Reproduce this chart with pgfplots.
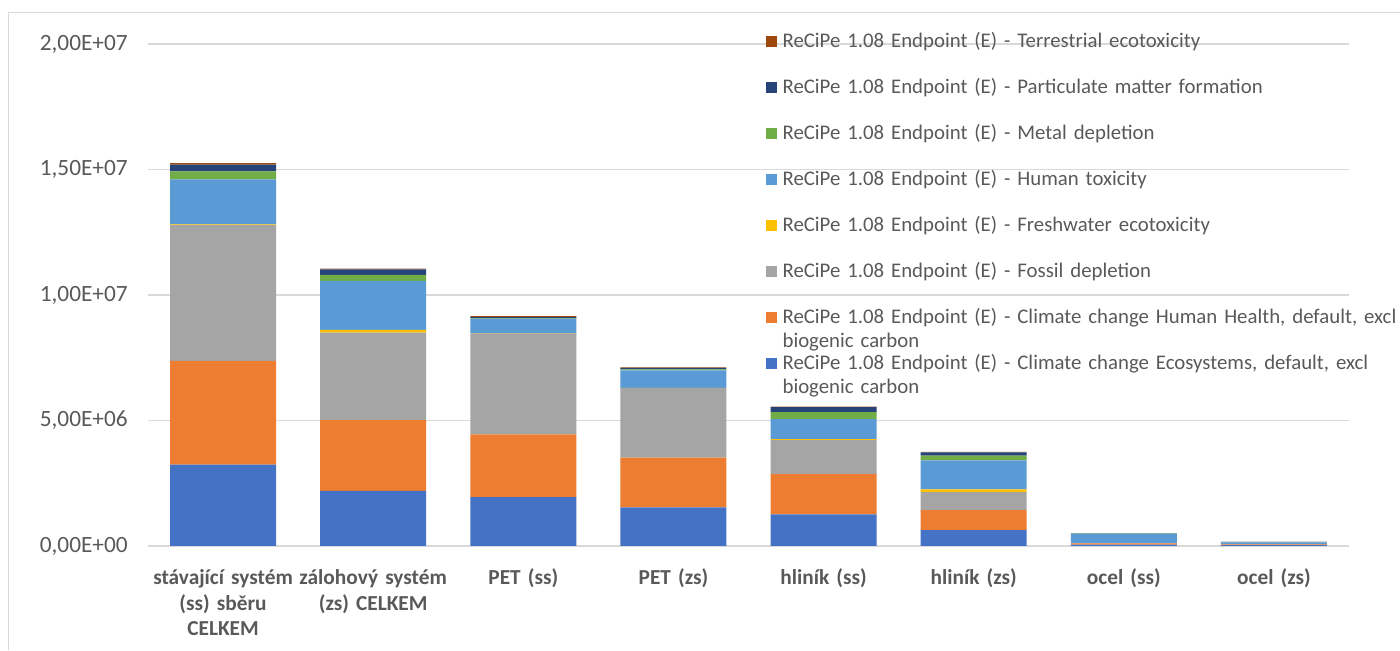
\documentclass[border=0pt]{standalone}
\usepackage{fontspec}
\setmainfont{Carlito}
\usepackage{pgfplots}
\pgfplotsset{compat=1.18}
\usepackage{pgfplotstable}

\definecolor{cEco}{HTML}{4472C4}
\definecolor{cHH}{HTML}{ED7D31}
\definecolor{cFos}{HTML}{A5A5A5}
\definecolor{cFw}{HTML}{FFC000}
\definecolor{cHt}{HTML}{5B9BD5}
\definecolor{cMet}{HTML}{70AD47}
\definecolor{cPm}{HTML}{264478}
\definecolor{cTer}{HTML}{9E480E}
\definecolor{txt}{HTML}{595959}
\definecolor{grd}{HTML}{D9D9D9}

\pgfplotstableread{
x eco hh fos fw ht met pm ter
0 3.24e6 4.14e6 5.40e6 0.03e6 1.80e6 0.32e6 0.26e6 0.06e6
1 2.20e6 2.81e6 3.49e6 0.11e6 1.95e6 0.24e6 0.22e6 0.03e6
2 1.95e6 2.50e6 4.00e6 0.01e6 0.60e6 0.02e6 0.04e6 0.04e6
3 1.54e6 1.98e6 2.77e6 0.01e6 0.70e6 0.04e6 0.06e6 0.02e6
4 1.26e6 1.60e6 1.36e6 0.04e6 0.79e6 0.28e6 0.20e6 0.02e6
5 0.63e6 0.80e6 0.72e6 0.11e6 1.15e6 0.19e6 0.13e6 0.02e6
6 0.05e6 0.05e6 0.01e6 0.00e6 0.38e6 0.02e6 0.005e6 0.002e6
7 0.03e6 0.03e6 0.01e6 0.00e6 0.07e6 0.01e6 0.01e6 0.002e6
}\data

\tikzset{le/.style={anchor=base west, inner sep=0pt, text height=12pt, text depth=0pt, text width=470pt, align=left, text=txt}}

\begin{document}
\begin{tikzpicture}
\useasboundingbox (0,0) rectangle (1050pt,487.5pt);
\draw[grd, line width=0.75pt] (6pt,0pt) -- (6pt,477.75pt) -- (1050pt,477.75pt);
\begin{axis}[
  at={(111pt,78pt)}, anchor=south west,
  scale only axis, width=900.75pt, height=376.5pt,
  xmin=-0.5, xmax=7.5, ymin=0, ymax=2e7,
  enlargelimits=false,
  ybar stacked, bar width=79.5pt,
  axis line style={draw=none},
  major tick length=0pt,
  ymajorgrids, grid style={grd, line width=1.1pt},
  ytick={0,5e6,1e7,1.5e7,2e7},
  yticklabels={{0,00E+00},{5,00E+06},{1,00E+07},{1,50E+07},{2,00E+07}},
  scaled y ticks=false,
  yticklabel style={anchor=east, inner sep=0pt, xshift=-15pt, text=txt, font=\fontsize{17.5}{21}\selectfont},
  xtick={0,...,7},
  xticklabels={{stávající systém\\(ss) sběru\\CELKEM},{zálohový systém\\(zs) CELKEM},{PET (ss)},{PET (zs)},{hliník (ss)},{hliník (zs)},{ocel (ss)},{ocel (zs)}},
  xticklabel style={anchor=base, inner sep=0pt, text width=140pt, align=center, yshift=-28.5pt, text=txt, font=\fontsize{16}{19.5}\selectfont\bfseries},
  reverse legend,
  legend style={at={(0.514,1.026)}, anchor=north west, draw=none, fill=none, inner sep=0pt, row sep=22.5pt, column sep=4.5pt, font=\fontsize{15.6}{18}\selectfont},
  legend image code/.code={\fill[#1,draw=none] (0pt,0pt) rectangle (8.25pt,8.25pt);},
  every axis plot/.append style={draw=none},
]
\addplot[fill=cEco] table[x=x,y=eco]{\data};
\addlegendentry[le]{ReCiPe 1.08 Endpoint (E) - Climate change Ecosystems, default, excl\\biogenic carbon}
\addplot[fill=cHH] table[x=x,y=hh]{\data};
\addlegendentry[le]{ReCiPe 1.08 Endpoint (E) - Climate change Human Health, default, excl\\biogenic carbon}
\addplot[fill=cFos] table[x=x,y=fos]{\data};
\addlegendentry[le]{ReCiPe 1.08 Endpoint (E) - Fossil depletion}
\addplot[fill=cFw] table[x=x,y=fw]{\data};
\addlegendentry[le]{ReCiPe 1.08 Endpoint (E) - Freshwater ecotoxicity}
\addplot[fill=cHt] table[x=x,y=ht]{\data};
\addlegendentry[le]{ReCiPe 1.08 Endpoint (E) - Human toxicity}
\addplot[fill=cMet] table[x=x,y=met]{\data};
\addlegendentry[le]{ReCiPe 1.08 Endpoint (E) - Metal depletion}
\addplot[fill=cPm] table[x=x,y=pm]{\data};
\addlegendentry[le]{ReCiPe 1.08 Endpoint (E) - Particulate matter formation}
\addplot[fill=cTer] table[x=x,y=ter]{\data};
\addlegendentry[le]{ReCiPe 1.08 Endpoint (E) - Terrestrial ecotoxicity}
\end{axis}
\end{tikzpicture}
\end{document}
